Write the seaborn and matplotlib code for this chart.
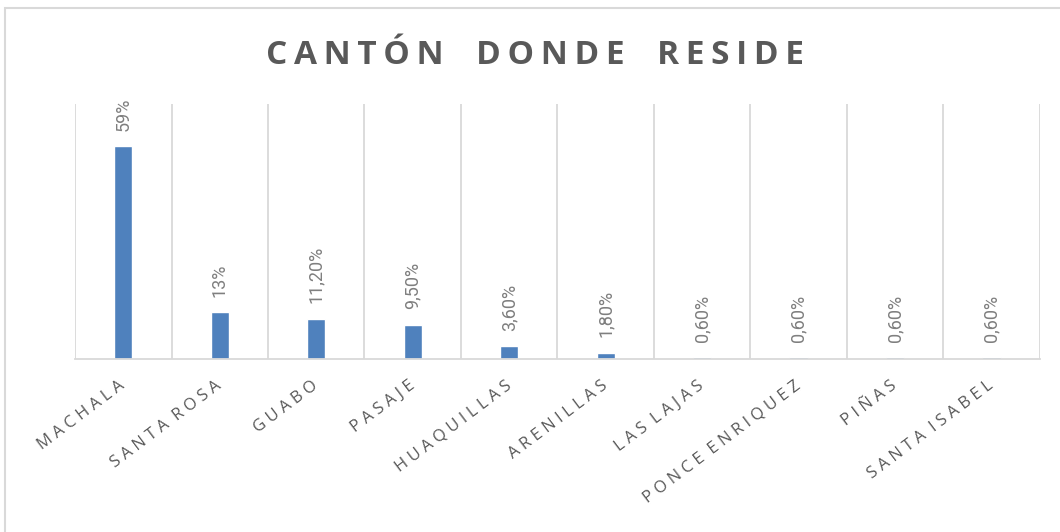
import matplotlib
matplotlib.use("Agg")
import matplotlib.pyplot as plt
import numpy as np
import pandas as pd
import seaborn as sns
from matplotlib.patches import Rectangle

cantones = ["MACHALA", "SANTA ROSA", "GUABO", "PASAJE", "HUAQUILLAS",
            "ARENILLAS", "LAS LAJAS", "PONCE ENRIQUEZ", "PIÑAS", "SANTA ISABEL"]
porcentajes = [59, 13, 11.2, 9.5, 3.6, 1.8, 0.6, 0.6, 0.6, 0.6]
etiquetas = ["59%", "13%", "11,20%", "9,50%", "3,60%", "1,80%",
             "0,60%", "0,60%", "0,60%", "0,60%"]

df = pd.DataFrame({"canton": cantones, "pct": porcentajes})

sns.set_theme(style="white")
plt.rcParams["font.family"] = ["Open Sans", "DejaVu Sans"]

fig = plt.figure(figsize=(10.6, 5.32), dpi=100)
ax = fig.add_axes([0.0708, 0.325, 0.9102, 0.4795])

sns.barplot(data=df, x="canton", y="pct", color="#4F81BD", width=0.19,
            saturation=1, ax=ax)

ax.set_xlim(-0.5, len(cantones) - 0.5)
ax.set_ylim(0, 70.6)
ax.set_yticks([])
ax.set_xlabel("")
ax.set_ylabel("")

# vertical gridlines between categories
ax.set_xticks(np.arange(-0.5, len(cantones)), minor=True)
ax.grid(True, which="minor", axis="x", color="#D9D9D9", linewidth=1.3)
ax.tick_params(axis="x", which="both", length=0)

for s in ["top", "left", "right"]:
    ax.spines[s].set_visible(False)
ax.spines["bottom"].set_color("#D9D9D9")
ax.spines["bottom"].set_linewidth(1.3)


def espaciar(texto, sep="\u2009\u200a", sep_palabra="  "):
    palabras = [sep.join(list(p)) for p in texto.split(" ")]
    return sep_palabra.join(palabras)


ax.set_xticks(range(len(cantones)))
ax.set_xticklabels([espaciar(c) for c in cantones], rotation=37, ha="right",
                   va="center", rotation_mode="anchor", fontsize=12,
                   color="#595959")
ax.tick_params(axis="x", pad=18)

for bar, lab in zip(ax.patches, etiquetas):
    ax.annotate(lab, (bar.get_x() + bar.get_width() / 2, bar.get_height()),
                xytext=(0, 11), textcoords="offset points", rotation=90,
                ha="center", va="bottom", fontsize=13, color="#7F7F7F",
                family=["Liberation Sans Narrow", "Roboto", "DejaVu Sans"])

titulo = espaciar("CANTÓN DONDE RESIDE", sep="\u2009", sep_palabra="   \u2009")
fig.text(0.505, 0.896, titulo, ha="center", va="center", fontsize=24,
         fontweight="bold", color="#595959")

fig.patches.append(Rectangle((0.005, -0.01), 1.0, 0.995, transform=fig.transFigure,
                             fill=False, edgecolor="#D9D9D9", linewidth=1.5))

fig.savefig("out.png", dpi=100)
